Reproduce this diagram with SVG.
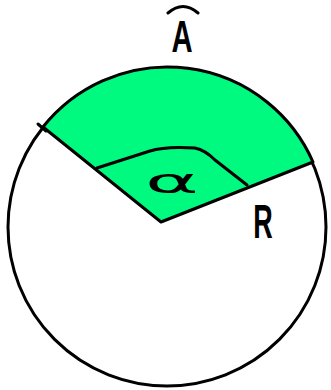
<svg xmlns="http://www.w3.org/2000/svg" width="331" height="390" viewBox="0 0 331 390">
<style>
.ln{fill:none;stroke:#000;stroke-width:3;stroke-linejoin:round;stroke-linecap:round}
.lbl{font-family:"Liberation Sans",Arial,sans-serif;font-weight:bold;fill:#000;text-anchor:middle}
</style>
<rect width="331" height="390" fill="#fff"/>
<g id="circle">
<circle cx="167" cy="227" r="159" fill="#fff" stroke="#000" stroke-width="3"/>
</g>
<g id="sector">
<path d="M161,222 L43,127 A159,159 0 0 1 313,162 Z" fill="#00FA80" stroke="#000" stroke-width="3" stroke-linejoin="round"/>
</g>
<g id="connectors">
<path class="ln" d="M97,168 L150,151 Q165,146 195,148 Q205,150 215,160 L247,185"/>
<path class="ln" d="M38,124 L46,131"/>
</g>
<g id="label-arc">
<path class="ln" d="M168,13 Q183,0 198,13"/>
<text class="lbl" font-size="45" transform="translate(182,52) scale(0.65,1)">A</text>
</g>
<g id="label-R">
<text class="lbl" font-size="49" transform="translate(263,238) scale(0.55,1)">R</text>
</g>
<g id="label-alpha">
<text font-family="DejaVu Sans,sans-serif" font-size="34" text-anchor="middle" fill="#000" transform="translate(172,193) scale(2.4,1)">α</text>
</g>
</svg>
